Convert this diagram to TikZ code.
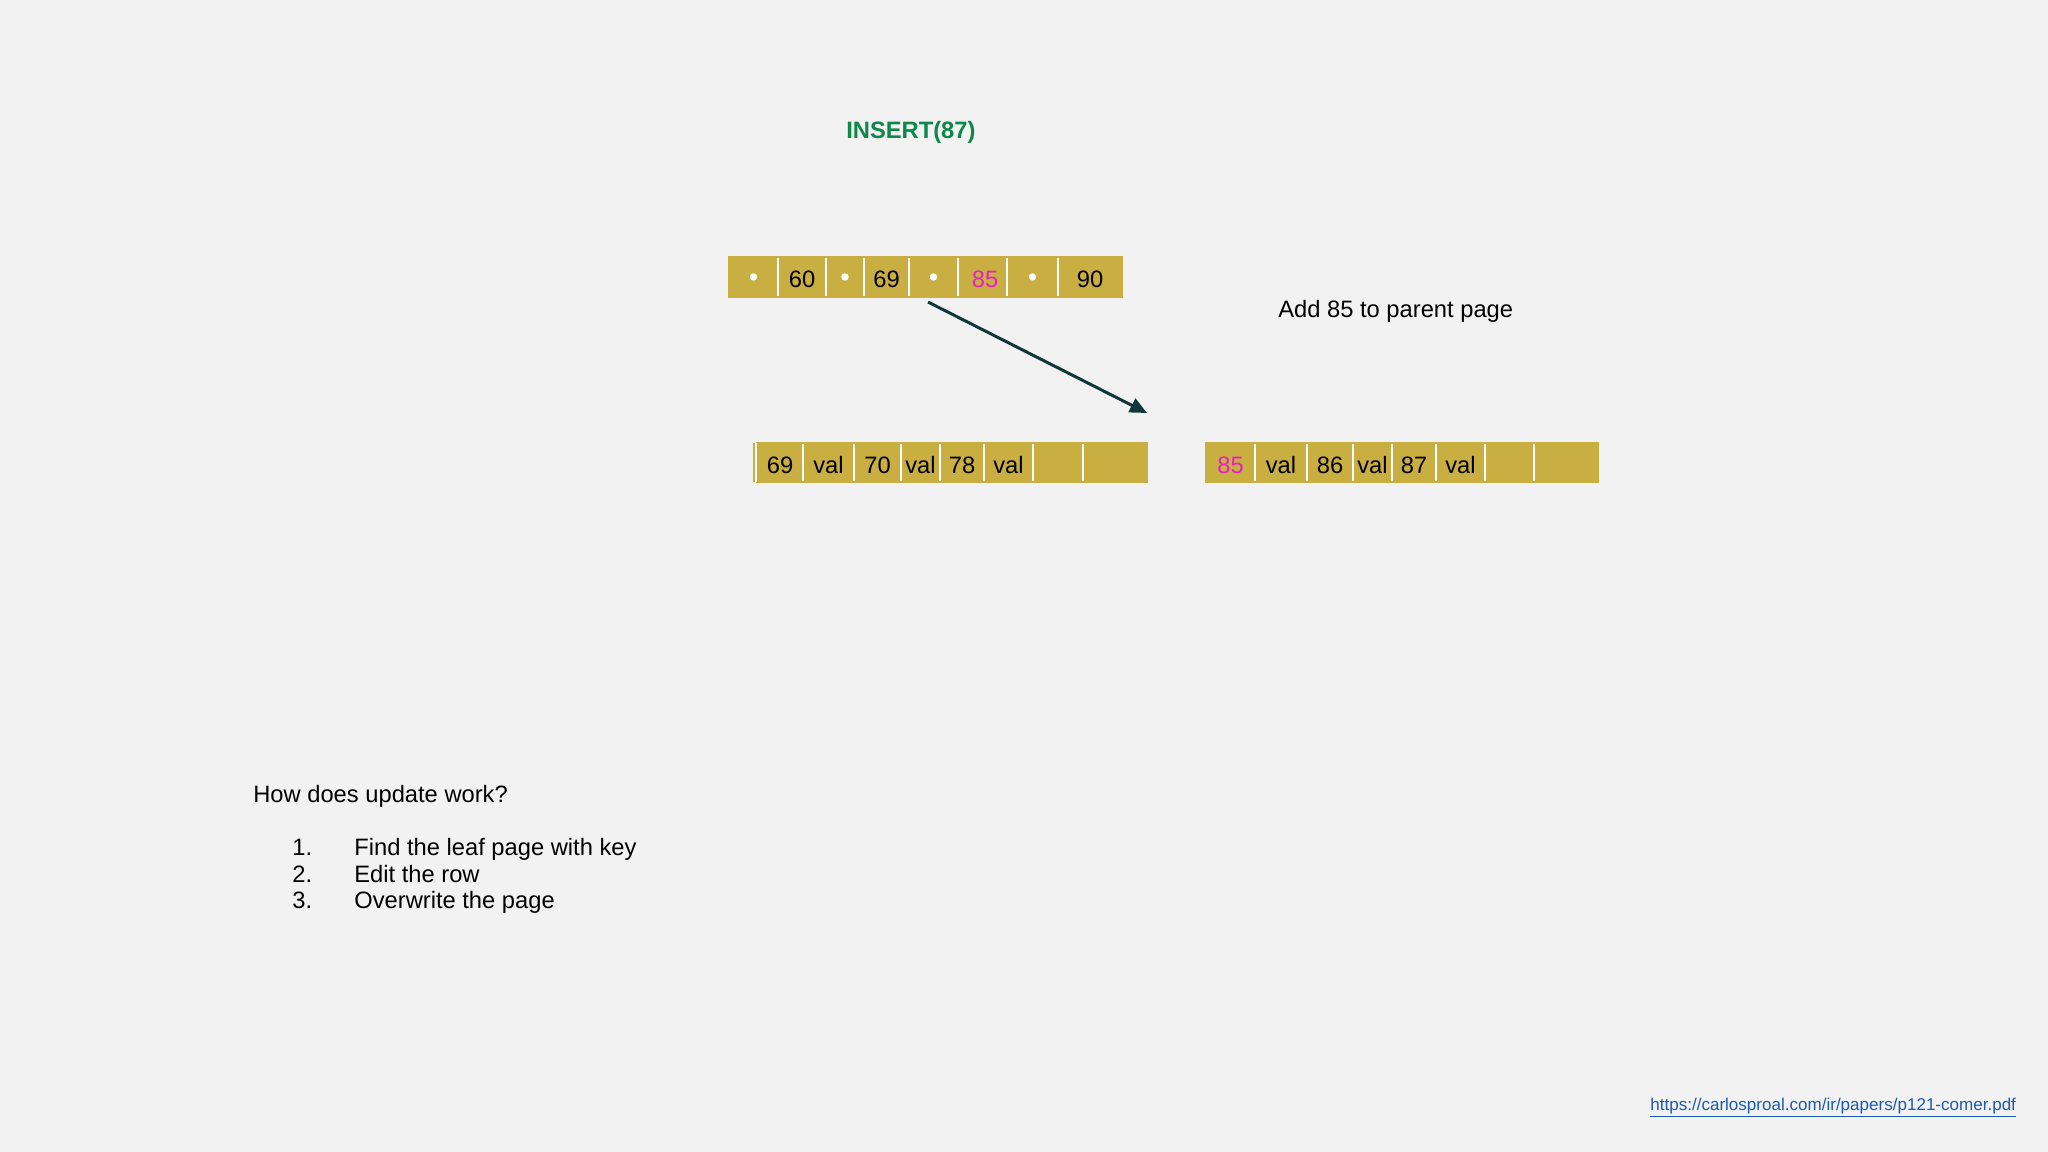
\documentclass[tikz,border=0pt]{standalone}
\usepackage{fontspec}
\setmainfont{Liberation Sans}
\usetikzlibrary{arrows.meta}

\definecolor{bg}{RGB}{243,242,243}
\definecolor{gold}{RGB}{201,174,66}
\definecolor{keypink}{RGB}{232,30,200}
\definecolor{insgreen}{RGB}{14,136,74}
\definecolor{linkblue}{RGB}{25,90,180}
\definecolor{arrowteal}{RGB}{14,56,58}

\tikzset{
    cell/.style={fill=gold, draw=white, line width=0.04cm},
    rim/.style={draw=gold, line width=0.04cm},
    ptr/.style={circle, fill=white, inner sep=0pt, minimum size=0.15cm},
    key/.style={font=\fontsize{13.5}{16}\selectfont, inner sep=0pt, yshift=-0.05cm},
    txt/.style={font=\fontsize{13.5}{16}\selectfont, inner sep=0pt, anchor=base west},
}

\begin{document}
\begin{tikzpicture}[x=0.02cm, y=-0.02cm, >={Triangle[length=0.34cm, width=0.3cm]}]

    \useasboundingbox (0,0) rectangle (2048,1152);
    \fill[bg] (0,0) rectangle (2048,1152);

    \node[txt, anchor=base west, font=\bfseries\fontsize{13.5}{16}\selectfont, text=insgreen] (title) at (846,139) {INSERT(87)};

    % parent
    \draw[cell] (729,257) rectangle (778,297) node[pos=.5, ptr] (t1) {};
    \draw[cell] (778,257) rectangle (826,297) node[pos=.5, key] (t2) {60};
    \draw[cell] (826,257) rectangle (864,297) node[pos=.5, ptr] (t3) {};
    \draw[cell] (864,257) rectangle (909,297) node[pos=.5, key] (t4) {69};
    \draw[cell] (909,257) rectangle (958,297) node[pos=.5, ptr] (t5) {};
    \draw[cell] (958,257) rectangle (1007,297) node[pos=.5, key, text=keypink, xshift=0.05cm] (t6) {85};
    \draw[cell] (1007,257) rectangle (1058,297) node[pos=.5, ptr] (t7) {};
    \draw[cell] (1058,257) rectangle (1122,297) node[pos=.5, key] (t8) {90};
    \draw[rim] (729,257) rectangle (1122,297);

    \node[txt] (note) at (1278,317) {Add 85 to parent page};

    % linker leaf
    \draw[cell] (757,443) rectangle (803,482) node[pos=.5, key] (l1) {69};
    \draw[cell] (803,443) rectangle (854,482) node[pos=.5, key] (l2) {val};
    \draw[cell] (854,443) rectangle (901,482) node[pos=.5, key] (l3) {70};
    \draw[cell] (901,443) rectangle (940,482) node[pos=.5, key] (l4) {val};
    \draw[cell] (940,443) rectangle (984,482) node[pos=.5, key] (l5) {78};
    \draw[cell] (984,443) rectangle (1033,482) node[pos=.5, key] (l6) {val};
    \draw[cell] (1033,443) rectangle (1083,482) node[pos=.5] (l7) {};
    \draw[cell] (1083,443) rectangle (1147,482) node[pos=.5] (l8) {};
    \draw[rim] (757,443) rectangle (1147,482);
    \fill[gold] (753,443) rectangle (755,482);
    \draw[white, line width=0.03cm] (756,443) -- (756,482);

    % rechter leaf
    \draw[cell] (1206,443) rectangle (1255,482) node[pos=.5, key, text=keypink] (r1) {85};
    \draw[cell] (1255,443) rectangle (1307,482) node[pos=.5, key] (r2) {val};
    \draw[cell] (1307,443) rectangle (1353,482) node[pos=.5, key] (r3) {86};
    \draw[cell] (1353,443) rectangle (1392,482) node[pos=.5, key] (r4) {val};
    \draw[cell] (1392,443) rectangle (1436,482) node[pos=.5, key] (r5) {87};
    \draw[cell] (1436,443) rectangle (1485,482) node[pos=.5, key] (r6) {val};
    \draw[cell] (1485,443) rectangle (1534,482) node[pos=.5] (r7) {};
    \draw[cell] (1534,443) rectangle (1598,482) node[pos=.5] (r8) {};
    \draw[rim] (1206,443) rectangle (1598,482);

    \coordinate (splitS) at (928,302);
    \coordinate (splitE) at (1147,413);
    \draw[->, arrowteal, line width=0.06cm] (splitS) -- (splitE);

    % update
    \node[txt] (how) at (253,802) {How does update work?};
    \node[txt] (n1) at (292,855) {1.};
    \node[txt] (n2) at (292,882) {2.};
    \node[txt] (n3) at (292,908) {3.};
    \node[txt] (s1) at (354,855) {Find the leaf page with key};
    \node[txt] (s2) at (354,882) {Edit the row};
    \node[txt] (s3) at (354,908) {Overwrite the page};

    \node[txt, font=\fontsize{9.7}{12}\selectfont, text=linkblue] (src) at (1650,1110) {\underline{https://carlosproal.com/ir/papers/p121-comer.pdf}};
\end{tikzpicture}
\end{document}
